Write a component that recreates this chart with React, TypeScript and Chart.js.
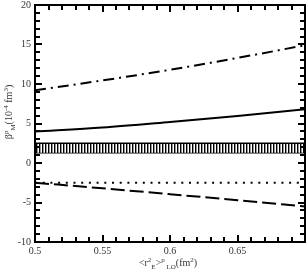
import React, { useEffect, useRef } from "react";
import { Chart, registerables } from "chart.js";

Chart.register(...registerables);

const xVals = [0.5, 0.55, 0.6, 0.65, 0.7];
const dashDotVals = [9.2, 10.45, 11.8, 13.3, 14.9];
const solidVals = [4.0, 4.5, 5.2, 5.95, 6.8];
const dottedVals = [-2.5, -2.5, -2.5, -2.5, -2.5];
const longDashVals = [-2.5, -3.2, -3.95, -4.7, -5.5];
const bandHiVals = [2.5, 2.5, 2.5, 2.5, 2.5];
const bandLoVals = [1.3, 1.3, 1.3, 1.3, 1.3];
const xTickLabels = ["0.5", "0.55", "0.6", "0.65", ""];
const yTickLabels = ["-10", "-5", "0", "5", "10", "15", "20"];
const xMinorTicks = [0.5, 0.51, 0.52, 0.53, 0.54, 0.55, 0.56, 0.57, 0.58, 0.59, 0.6, 0.61, 0.62, 0.63, 0.64, 0.65, 0.66, 0.67, 0.68, 0.69, 0.7];
const yMinorTicks = [-10, -9, -8, -7, -6, -5, -4, -3, -2, -1, 0, 1, 2, 3, 4, 5, 6, 7, 8, 9, 10, 11, 12, 13, 14, 15, 16, 17, 18, 19, 20];

const FONT = '"Liberation Serif", "DejaVu Serif", serif';
const TXT = "#333";

type Part = { t: string; s: number; dy: number };

function drawRich(ctx: CanvasRenderingContext2D, parts: Part[], cx: number, cy: number, angle: number) {
  ctx.save();
  ctx.translate(cx, cy);
  ctx.rotate(angle);
  ctx.fillStyle = TXT;
  ctx.textBaseline = "alphabetic";
  ctx.textAlign = "left";
  let total = 0;
  const widths = parts.map((p) => {
    ctx.font = `${p.s}px ${FONT}`;
    const w = ctx.measureText(p.t).width;
    total += w;
    return w;
  });
  let x = -total / 2;
  parts.forEach((p, i) => {
    ctx.font = `${p.s}px ${FONT}`;
    ctx.fillText(p.t, x, p.dy);
    x += widths[i];
  });
  ctx.restore();
}

const xTitle: Part[] = [
  { t: "<r", s: 10, dy: 0 },
  { t: "2", s: 7, dy: -4 },
  { t: "E", s: 7, dy: 3 },
  { t: ">", s: 10, dy: 0 },
  { t: "p", s: 7, dy: -4 },
  { t: " LO", s: 7, dy: 3 },
  { t: "(fm", s: 10, dy: 0 },
  { t: "2", s: 7, dy: -4 },
  { t: ")", s: 10, dy: 0 },
];

const yTitle: Part[] = [
  { t: "β", s: 10, dy: 0 },
  { t: "p", s: 7, dy: -4 },
  { t: "M", s: 7, dy: 3 },
  { t: "(10", s: 10, dy: 0 },
  { t: "-4", s: 7, dy: -4 },
  { t: " fm", s: 10, dy: 0 },
  { t: "3", s: 7, dy: -4 },
  { t: ")", s: 10, dy: 0 },
];

const framePlugin = {
  id: "frame",
  afterDraw(chart: any) {
    const ctx: CanvasRenderingContext2D = chart.ctx;
    const a = chart.chartArea;
    const left = a.left, right = a.right, top = a.top, bottom = a.bottom;
    const xs = chart.scales.x;
    const ys = chart.scales.y;
    ctx.save();
    ctx.fillStyle = "#000";
    xMinorTicks.forEach((v, i) => {
      const px = Math.round(xs.getPixelForValue(v)) - 1;
      const len = i % 5 === 0 ? 7 : 5;
      ctx.fillRect(px, bottom - len, 2, len);
      ctx.fillRect(px, top, 2, len);
    });
    yMinorTicks.forEach((v) => {
      const py = Math.round(ys.getPixelForValue(v)) - 1;
      const len = Math.abs(v) % 5 === 0 ? 7 : 5;
      ctx.fillRect(left, py, len, 2);
      ctx.fillRect(right - len, py, len, 2);
    });
    ctx.strokeStyle = "#000";
    ctx.lineWidth = 2;
    ctx.setLineDash([]);
    ctx.strokeRect(left, top, right - left, bottom - top);
    ctx.restore();
    drawRich(ctx, xTitle, (left + right) / 2 - 2, 266, 0);
    drawRich(ctx, yTitle, 12, 112, -Math.PI / 2);
  },
};

export default function App() {
  const ref = useRef<HTMLCanvasElement | null>(null);
  useEffect(() => {
    document.body.style.margin = "0";
    const canvas = ref.current!;
    const pc = document.createElement("canvas");
    pc.width = 3;
    pc.height = 4;
    const pctx = pc.getContext("2d")!;
    pctx.fillStyle = "#fff";
    pctx.fillRect(0, 0, 3, 4);
    pctx.fillStyle = "#000";
    pctx.fillRect(0, 0, 1.4, 4);
    const pattern = canvas.getContext("2d")!.createPattern(pc, "repeat");

    const pts = (arr: number[]) => xVals.map((x, i) => ({ x, y: arr[i] }));

    const chart = new Chart(canvas, {
      type: "line",
      data: {
        datasets: [
          { data: pts(bandHiVals), borderColor: "#000", borderWidth: 1.5, backgroundColor: pattern as any, fill: "+1", pointRadius: 0 },
          { data: pts(bandLoVals), borderColor: "#000", borderWidth: 1.5, fill: false, pointRadius: 0 },
          { data: pts(dashDotVals), borderColor: "#000", borderWidth: 2, borderDash: [11, 5, 2, 5], fill: false, pointRadius: 0, cubicInterpolationMode: "monotone" },
          { data: pts(solidVals), borderColor: "#000", borderWidth: 2, fill: false, pointRadius: 0, cubicInterpolationMode: "monotone" },
          { data: pts(dottedVals), borderColor: "#000", borderWidth: 2, borderDash: [2, 5.7], fill: false, pointRadius: 0 },
          { data: pts(longDashVals), borderColor: "#000", borderWidth: 2, borderDash: [14, 5], fill: false, pointRadius: 0, cubicInterpolationMode: "monotone" },
        ],
      },
      options: {
        animation: false,
        responsive: false,
        events: [],
        layout: { padding: { left: 0, right: 3, top: 5, bottom: 0 } },
        plugins: { legend: { display: false }, tooltip: { enabled: false }, title: { display: false } },
        scales: {
          x: {
            type: "linear",
            min: 0.5,
            max: 0.7,
            border: { display: false },
            grid: { display: false, drawTicks: false },
            afterBuildTicks: (s: any) => {
              s.ticks = xVals.map((v) => ({ value: v }));
            },
            afterFit: (s: any) => {
              s.height = 29;
              s.paddingLeft = 0;
              s.paddingRight = 0;
            },
            ticks: {
              padding: 3,
              autoSkip: false,
              maxRotation: 0,
              color: TXT,
              font: { family: FONT, size: 10 },
              callback: (_v: any, i: number) => xTickLabels[i],
            },
          },
          y: {
            type: "linear",
            min: -10,
            max: 20,
            border: { display: false },
            grid: { display: false, drawTicks: false },
            afterBuildTicks: (s: any) => {
              s.ticks = yTickLabels.map((t) => ({ value: Number(t) }));
            },
            afterFit: (s: any) => {
              s.width = 35;
              s.paddingTop = 0;
              s.paddingBottom = 0;
            },
            ticks: {
              padding: 4,
              color: TXT,
              font: { family: FONT, size: 10 },
              callback: (_v: any, i: number) => yTickLabels[i],
            },
          },
        },
      },
      plugins: [framePlugin],
    });
    return () => chart.destroy();
  }, []);
  return (
    <div style={{ position: "absolute", left: 0, top: 0, width: 308, height: 271, background: "#fff" }}>
      <canvas ref={ref} width={308} height={271} style={{ display: "block" }} />
    </div>
  );
}
